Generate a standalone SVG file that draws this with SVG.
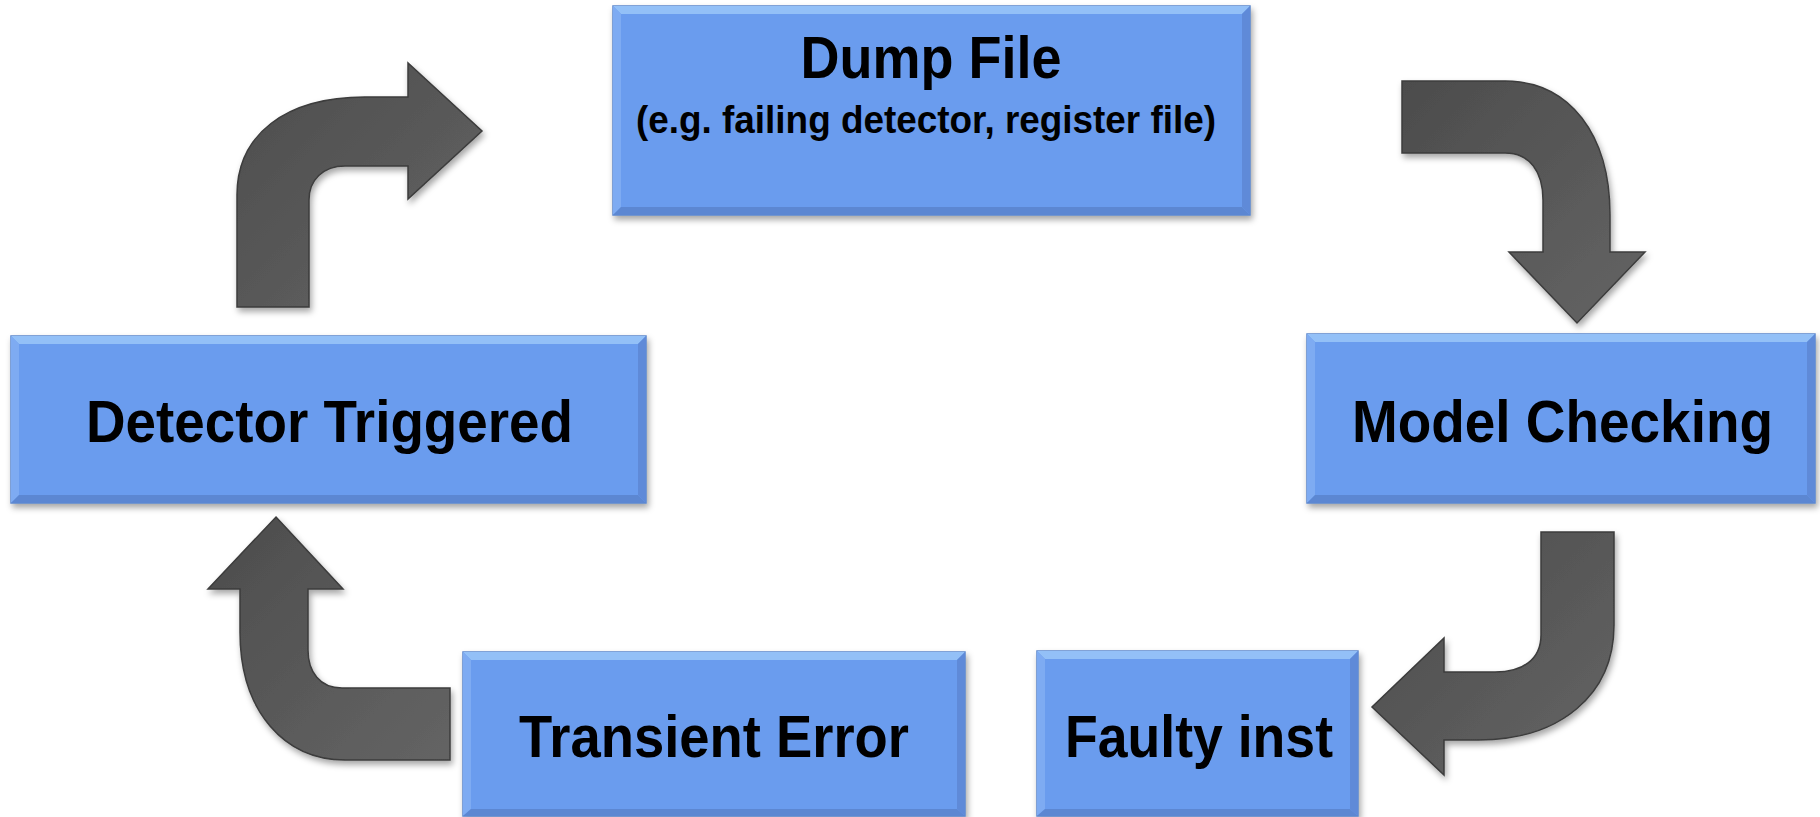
<svg xmlns="http://www.w3.org/2000/svg" width="1820" height="817" viewBox="0 0 1820 817">
<defs>
  <filter id="sh" x="-10%" y="-10%" width="130%" height="130%">
    <feDropShadow dx="2" dy="4" stdDeviation="3" flood-color="#000" flood-opacity="0.35"/>
  </filter>
  <linearGradient id="ag" x1="0" y1="0" x2="1" y2="1">
    <stop offset="0" stop-color="#4c4c4c"/>
    <stop offset="1" stop-color="#646464"/>
  </linearGradient>
  <style>
    .box{fill:#6b9cee;stroke:#5b86cc;stroke-width:1.5}
    .bt{fill:#93c0f7}
    .bl{fill:#7eabf2}
    .bb{fill:#5c87d2}
    .br{fill:#5f8ad8}
    .lbl{font-family:"Liberation Sans",Arial,sans-serif;font-weight:bold;fill:#000;text-anchor:middle}
    .big{font-size:59px}
    .sub{font-size:38px}
    .arr{fill:url(#ag);stroke:#3c3c3c;stroke-width:1.5;stroke-linejoin:miter}
  </style>
</defs>
<rect width="1820" height="817" fill="#fff"/>

<g id="dump">
  <g filter="url(#sh)">
    <rect class="box" x="613" y="6" width="637" height="209"/>
  </g>
  <polygon class="bt" points="613,6 1250,6 1242,14 621,14"/>
  <polygon class="bl" points="613,6 621,14 621,207 613,215"/>
  <polygon class="bb" points="613,215 621,207 1242,207 1250,215"/>
  <polygon class="br" points="1250,6 1250,215 1242,207 1242,14"/>
  <text class="lbl big" x="931" y="78" textLength="261" lengthAdjust="spacingAndGlyphs">Dump File</text>
  <text class="lbl sub" x="926" y="133" textLength="580" lengthAdjust="spacingAndGlyphs">(e.g. failing detector, register file)</text>
</g>

<g id="detector">
  <g filter="url(#sh)">
    <rect class="box" x="11" y="336" width="635" height="167"/>
  </g>
  <polygon class="bt" points="11,336 646,336 638,344 19,344"/>
  <polygon class="bl" points="11,336 19,344 19,495 11,503"/>
  <polygon class="bb" points="11,503 19,495 638,495 646,503"/>
  <polygon class="br" points="646,336 646,503 638,495 638,344"/>
  <text class="lbl big" x="329.5" y="442" textLength="487" lengthAdjust="spacingAndGlyphs">Detector Triggered</text>
</g>

<g id="model">
  <g filter="url(#sh)">
    <rect class="box" x="1307" y="334" width="508" height="169"/>
  </g>
  <polygon class="bt" points="1307,334 1815,334 1807,342 1315,342"/>
  <polygon class="bl" points="1307,334 1315,342 1315,495 1307,503"/>
  <polygon class="bb" points="1307,503 1315,495 1807,495 1815,503"/>
  <polygon class="br" points="1815,334 1815,503 1807,495 1807,342"/>
  <text class="lbl big" x="1562.5" y="442" textLength="421" lengthAdjust="spacingAndGlyphs">Model Checking</text>
</g>

<g id="transient">
  <g filter="url(#sh)">
    <rect class="box" x="463" y="652" width="502" height="164"/>
  </g>
  <polygon class="bt" points="463,652 965,652 957,660 471,660"/>
  <polygon class="bl" points="463,652 471,660 471,809 463,816"/>
  <polygon class="bb" points="463,816 471,809 957,809 965,816"/>
  <polygon class="br" points="965,652 965,816 957,809 957,660"/>
  <text class="lbl big" x="714" y="757" font-size="56" textLength="390" lengthAdjust="spacingAndGlyphs">Transient Error</text>
</g>

<g id="faulty">
  <g filter="url(#sh)">
    <rect class="box" x="1037" y="651" width="321" height="165"/>
  </g>
  <polygon class="bt" points="1037,651 1358,651 1350,659 1045,659"/>
  <polygon class="bl" points="1037,651 1045,659 1045,809 1037,816"/>
  <polygon class="bb" points="1037,816 1045,809 1350,809 1358,816"/>
  <polygon class="br" points="1358,651 1358,816 1350,809 1350,659"/>
  <text class="lbl big" x="1199" y="757" font-size="56" textLength="268" lengthAdjust="spacingAndGlyphs">Faulty inst</text>
</g>

<g id="connectors" filter="url(#sh)">
  <path class="arr" d="M237,307 L237,195 C237,135 285,97 365,97 L408,97 L408,63 L482,131 L408,199 L408,166 L345,166 C323,166 309,180 309,200 L309,307 Z"/>
  <path class="arr" d="M1402,81 L1505,81 C1570,81 1610,135 1610,215 L1610,252 L1645,252 L1577,323 L1509,252 L1543,252 L1543,200 C1543,172 1530,153 1505,153 L1402,153 Z"/>
  <path class="arr" d="M1541,532 L1614,532 L1614,625 C1614,695 1560,740 1478,740 L1444,740 L1444,775 L1372,707 L1444,638 L1444,672 L1495,672 C1522,672 1541,660 1541,635 Z"/>
  <path class="arr" d="M276,517 L343,589 L308,589 L308,650 C308,672 320,688 342,688 L450,688 L450,760 L345,760 C285,760 240,712 240,632 L240,589 L208,589 Z"/>
</g>
</svg>
